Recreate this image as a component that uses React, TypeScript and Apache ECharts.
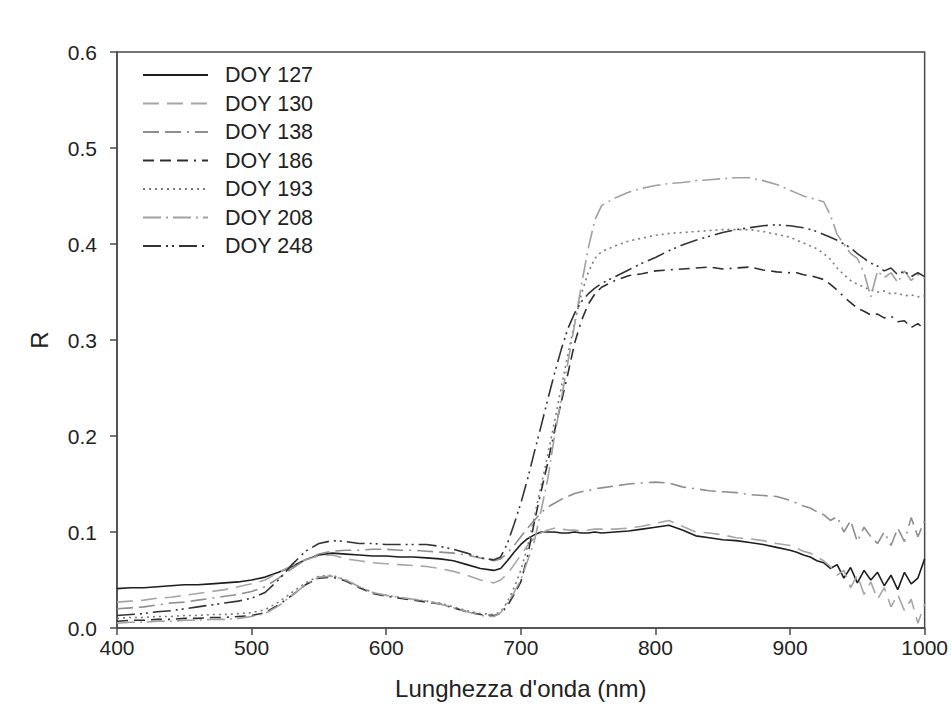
import React, { useEffect, useRef } from "react";
import * as echarts from "echarts";

const wavelengths = [
  400, 410, 420, 430, 440, 450, 460, 470, 480, 490, 500, 510, 520, 530, 540, 550, 560, 570, 580, 590, 600, 610, 620, 630, 640, 650, 660, 670, 680,
  685, 690, 695, 700, 705, 710, 715, 720, 725, 730, 735, 740, 745, 750, 755, 760,
  770, 780, 790, 800, 810, 820, 830, 840, 850, 860, 870, 880, 890, 900,
  905, 910, 915, 920, 925, 930, 935, 940, 945, 950, 955, 960, 965, 970, 975, 980, 985, 990, 995, 1000,
];

const doy127 = [
  0.041, 0.042, 0.042, 0.043, 0.044, 0.045, 0.045, 0.046, 0.047, 0.048, 0.05, 0.053, 0.058, 0.064, 0.071, 0.076, 0.078, 0.077, 0.076, 0.075, 0.075, 0.074, 0.074, 0.073, 0.072, 0.07, 0.066, 0.062, 0.06,
  0.062, 0.07, 0.079, 0.087, 0.093, 0.097, 0.1, 0.1, 0.1, 0.099, 0.099, 0.1, 0.099, 0.099, 0.1, 0.099,
  0.1, 0.101, 0.103, 0.105, 0.107, 0.102, 0.096, 0.094, 0.092, 0.091, 0.089, 0.087, 0.084, 0.081,
  0.079, 0.076, 0.074, 0.07, 0.068, 0.062, 0.066, 0.052, 0.063, 0.047, 0.06, 0.05, 0.058, 0.044, 0.055, 0.04, 0.058, 0.046, 0.052, 0.072,
];

const doy130 = [
  0.027, 0.028, 0.029, 0.031, 0.032, 0.034, 0.036, 0.038, 0.04, 0.043, 0.046, 0.05, 0.058, 0.065, 0.071, 0.075, 0.076, 0.072, 0.07, 0.068, 0.067, 0.066, 0.065, 0.064, 0.062, 0.059, 0.055, 0.05, 0.047,
  0.05, 0.056, 0.066, 0.076, 0.086, 0.094, 0.099, 0.102, 0.104, 0.103, 0.102, 0.102, 0.101, 0.102, 0.103, 0.103,
  0.103, 0.104, 0.106, 0.109, 0.112, 0.106, 0.1, 0.099, 0.097, 0.094, 0.093, 0.091, 0.088, 0.086,
  0.083, 0.08, 0.078, 0.074, 0.07, 0.064, 0.055, 0.06, 0.042, 0.055, 0.035, 0.048, 0.03, 0.042, 0.022, 0.035, 0.018, 0.03, 0.005, 0.025,
];

const doy138 = [
  0.02, 0.021, 0.022, 0.024, 0.026, 0.027, 0.029, 0.031, 0.033, 0.035, 0.038, 0.043, 0.052, 0.062, 0.071, 0.077, 0.08, 0.081, 0.081, 0.082, 0.082, 0.081, 0.081, 0.08, 0.079, 0.078, 0.076, 0.073, 0.07,
  0.072, 0.078, 0.086, 0.095, 0.104, 0.112, 0.12, 0.126, 0.13, 0.134, 0.137, 0.14, 0.142, 0.143, 0.145, 0.146,
  0.148, 0.15, 0.151, 0.152, 0.151, 0.147, 0.145, 0.143, 0.142, 0.141, 0.139, 0.138, 0.137, 0.133,
  0.13, 0.127, 0.125, 0.121, 0.118, 0.112, 0.116, 0.1, 0.112, 0.09, 0.105, 0.095, 0.088, 0.1, 0.086, 0.104, 0.09, 0.115, 0.095, 0.112,
];

const doy186 = [
  0.007, 0.008, 0.008, 0.009, 0.009, 0.01, 0.01, 0.011, 0.011, 0.012, 0.013, 0.016, 0.024, 0.034, 0.045, 0.052, 0.053, 0.049, 0.042, 0.036, 0.033, 0.031, 0.029, 0.027, 0.025, 0.021, 0.017, 0.014, 0.013,
  0.015, 0.023, 0.035, 0.048, 0.075, 0.11, 0.142, 0.172, 0.205, 0.235, 0.265, 0.297, 0.32, 0.337, 0.348, 0.355,
  0.362, 0.367, 0.369, 0.372, 0.373, 0.374, 0.375, 0.376, 0.374, 0.375, 0.376, 0.373, 0.371, 0.37,
  0.37, 0.368, 0.367, 0.365, 0.363, 0.358, 0.352, 0.345, 0.339, 0.333, 0.33, 0.326, 0.327, 0.323, 0.325, 0.319, 0.32, 0.313, 0.317, 0.311,
];

const doy193 = [
  0.01, 0.011, 0.011, 0.012, 0.012, 0.013, 0.013, 0.014, 0.014, 0.015, 0.016, 0.019, 0.027, 0.037, 0.047, 0.054, 0.055, 0.05, 0.043, 0.037, 0.034, 0.032, 0.03, 0.028, 0.026, 0.022, 0.018, 0.015, 0.014,
  0.017, 0.027, 0.042, 0.06, 0.085, 0.115, 0.148, 0.18, 0.215, 0.25, 0.285, 0.318, 0.348, 0.37, 0.385, 0.392,
  0.398, 0.403, 0.406, 0.409, 0.411, 0.412, 0.413, 0.414, 0.415, 0.415, 0.415, 0.413, 0.41, 0.407,
  0.404, 0.401, 0.398, 0.395, 0.39, 0.384, 0.375, 0.368, 0.362, 0.358, 0.355, 0.352, 0.35, 0.351, 0.348, 0.349, 0.346, 0.347, 0.345, 0.346,
];

const doy208 = [
  0.005, 0.006, 0.006, 0.007, 0.007, 0.008, 0.008, 0.009, 0.009, 0.01, 0.012, 0.015, 0.023, 0.034, 0.045, 0.053, 0.054, 0.05, 0.043, 0.037, 0.034, 0.032, 0.03, 0.028, 0.025, 0.021, 0.017, 0.013, 0.012,
  0.016, 0.026, 0.037, 0.05, 0.07, 0.09, 0.122, 0.155, 0.2, 0.238, 0.277, 0.316, 0.357, 0.395, 0.425, 0.44,
  0.448, 0.454, 0.458, 0.461, 0.463, 0.464, 0.466, 0.467, 0.468, 0.469, 0.469, 0.466, 0.462, 0.456,
  0.453, 0.45, 0.448, 0.446, 0.444, 0.43, 0.41, 0.4, 0.39, 0.385, 0.37, 0.345, 0.372, 0.365, 0.37, 0.36, 0.372, 0.362, 0.368, 0.364,
];

const doy248 = [
  0.013, 0.014, 0.015, 0.017, 0.018, 0.02, 0.022, 0.024, 0.026, 0.028, 0.031, 0.037, 0.05, 0.066, 0.08, 0.088, 0.091, 0.09, 0.088, 0.088, 0.087, 0.087, 0.087, 0.087, 0.085, 0.082, 0.078, 0.073, 0.071,
  0.074, 0.088, 0.108, 0.13, 0.155, 0.183, 0.21, 0.238, 0.265, 0.29, 0.312, 0.328, 0.34, 0.348, 0.354, 0.359,
  0.366, 0.373, 0.38, 0.386, 0.393, 0.399, 0.404, 0.408, 0.412, 0.415, 0.417, 0.419, 0.42, 0.419,
  0.418, 0.417, 0.415, 0.413, 0.41, 0.407, 0.404, 0.4, 0.396, 0.39, 0.385, 0.38, 0.377, 0.372, 0.375, 0.368, 0.372, 0.366, 0.37, 0.366,
];

const seriesNames = ["DOY 127", "DOY 130", "DOY 138", "DOY 186", "DOY 193", "DOY 208", "DOY 248"];
const seriesValues = [doy127, doy130, doy138, doy186, doy193, doy208, doy248];
const seriesColors = ["#1e1e1e", "#a6a6a6", "#8e8e8e", "#2e2e2e", "#7a7a7a", "#a0a0a0", "#333333"];
const seriesDashes: (number[] | "solid")[] = [
  "solid",
  [16, 8],
  [16, 6, 16, 6, 2, 6],
  [11, 6, 11, 6, 11, 6, 2, 6],
  [2, 4],
  [18, 5, 2, 5],
  [18, 5, 2, 4, 2, 5],
];

const xTicks = [400, 1000, 100];
const yTicks = [0, 0.6, 0.1];

const FONT = "'Liberation Sans', Arial, sans-serif";

export default function App() {
  const ref = useRef<HTMLDivElement>(null);
  useEffect(() => {
    if (!ref.current) return;
    document.body.style.margin = "0";
    const chart = echarts.init(ref.current, undefined, { renderer: "svg" });
    chart.setOption({
      animation: false,
      backgroundColor: "#ffffff",
      textStyle: { fontFamily: FONT },
      grid: {
        left: 117,
        right: 26,
        top: 52,
        bottom: 95,
        show: true,
        borderColor: "#4a4a4a",
        borderWidth: 1.5,
        backgroundColor: "transparent",
      },
      legend: {
        orient: "vertical",
        left: 142,
        top: 64,
        padding: 0,
        itemWidth: 65,
        itemHeight: 14,
        itemGap: 6.5,
        itemStyle: { opacity: 0 },
        textStyle: { fontSize: 21.5, color: "#222", fontFamily: FONT, padding: [0, 0, 0, 12] },
        data: seriesNames,
      },
      xAxis: {
        type: "value",
        min: xTicks[0],
        max: xTicks[1],
        interval: xTicks[2],
        name: "Lunghezza d'onda (nm)",
        nameLocation: "middle",
        nameGap: 48,
        nameTextStyle: { fontSize: 24, color: "#222", fontFamily: FONT },
        axisLine: { show: true, lineStyle: { color: "#4a4a4a", width: 1.5 } },
        axisTick: { show: true, inside: false, length: 7, lineStyle: { color: "#4a4a4a", width: 1.5 } },
        axisLabel: { fontSize: 21, color: "#222", margin: 9, fontFamily: FONT, formatter: (v: number) => String(v) },
        splitLine: { show: false },
      },
      yAxis: {
        type: "value",
        min: yTicks[0],
        max: yTicks[1],
        interval: yTicks[2],
        name: "R",
        nameLocation: "middle",
        nameGap: 66,
        nameRotate: 90,
        nameTextStyle: { fontSize: 24, color: "#222", fontFamily: FONT },
        axisLine: { show: true, lineStyle: { color: "#4a4a4a", width: 1.5 } },
        axisTick: { show: true, inside: false, length: 7, lineStyle: { color: "#4a4a4a", width: 1.5 } },
        axisLabel: {
          fontSize: 21,
          color: "#222",
          margin: 20,
          fontFamily: FONT,
          formatter: (v: number) => v.toFixed(1),
        },
        splitLine: { show: false },
      },
      series: seriesNames.map((name, i) => ({
        name,
        type: "line",
        showSymbol: false,
        symbol: "none",
        data: wavelengths.map((w, j) => [w, seriesValues[i][j]]),
        lineStyle: { color: seriesColors[i], width: 1.6, type: seriesDashes[i] },
        itemStyle: { color: seriesColors[i] },
        emphasis: { disabled: true },
      })),
    });
    return () => chart.dispose();
  }, []);
  return <div ref={ref} style={{ width: 951, height: 723 }} />;
}
